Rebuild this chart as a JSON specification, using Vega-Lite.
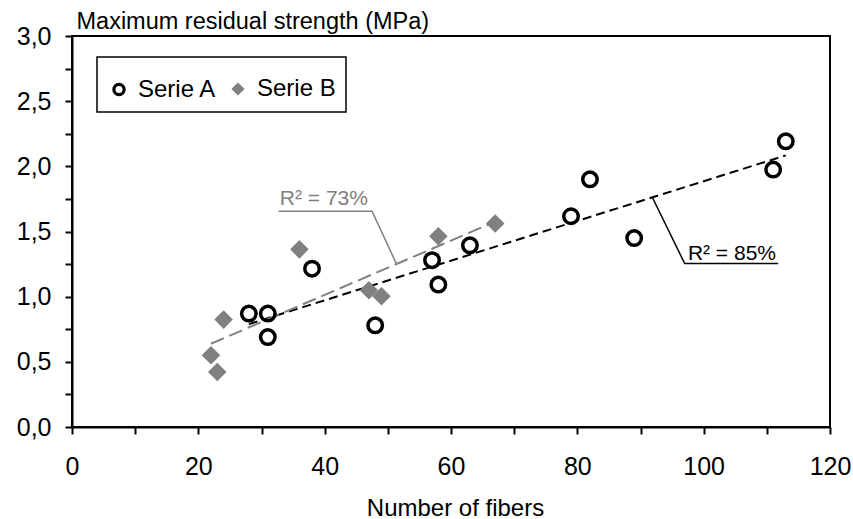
{
  "$schema": "https://vega.github.io/schema/vega-lite/v6.json",
  "autosize": {"type": "none"},
  "padding": {"left": 72, "top": 36, "right": 23, "bottom": 92},
  "width": 758,
  "height": 391,
  "background": "white",
  "datasets": {
    "points": [
      {"fibers": 28, "strength": 0.87, "series": "Serie A"},
      {"fibers": 31, "strength": 0.87, "series": "Serie A"},
      {"fibers": 31, "strength": 0.69, "series": "Serie A"},
      {"fibers": 38, "strength": 1.215, "series": "Serie A"},
      {"fibers": 48, "strength": 0.78, "series": "Serie A"},
      {"fibers": 57, "strength": 1.28, "series": "Serie A"},
      {"fibers": 58, "strength": 1.093, "series": "Serie A"},
      {"fibers": 63, "strength": 1.394, "series": "Serie A"},
      {"fibers": 79, "strength": 1.617, "series": "Serie A"},
      {"fibers": 82, "strength": 1.90, "series": "Serie A"},
      {"fibers": 89, "strength": 1.45, "series": "Serie A"},
      {"fibers": 111, "strength": 1.975, "series": "Serie A"},
      {"fibers": 113, "strength": 2.192, "series": "Serie A"},
      {"fibers": 22, "strength": 0.55, "series": "Serie B"},
      {"fibers": 23, "strength": 0.422, "series": "Serie B"},
      {"fibers": 24, "strength": 0.824, "series": "Serie B"},
      {"fibers": 36, "strength": 1.363, "series": "Serie B"},
      {"fibers": 47, "strength": 1.049, "series": "Serie B"},
      {"fibers": 49, "strength": 1.003, "series": "Serie B"},
      {"fibers": 58, "strength": 1.463, "series": "Serie B"},
      {"fibers": 67, "strength": 1.561, "series": "Serie B"}
    ],
    "leaderB": [
      {"fibers": 32.7, "strength": 1.655, "order": 1},
      {"fibers": 47.5, "strength": 1.655, "order": 2},
      {"fibers": 51.4, "strength": 1.248, "order": 3}
    ],
    "leaderA": [
      {"fibers": 91.85, "strength": 1.765, "order": 1},
      {"fibers": 97.0, "strength": 1.254, "order": 2},
      {"fibers": 111.8, "strength": 1.254, "order": 3}
    ],
    "labelB": [{"fibers": 32.9, "strength": 1.70, "text": "R² = 73%"}],
    "labelA": [{"fibers": 97.5, "strength": 1.284, "text": "R² = 85%"}]
  },
  "encoding": {
    "x": {
      "field": "fibers", "type": "quantitative",
      "scale": {"domain": [0, 120], "nice": false, "zero": false},
      "axis": {
        "title": "Number of fibers",
        "values": [0, 10, 20, 30, 40, 50, 60, 70, 80, 90, 100, 110, 120],
        "labelExpr": "datum.value % 20 == 0 ? datum.label : ''",
        "labelFlush": false, "labelOverlap": false,
        "labelPadding": 20,
        "titleX": 383, "titleY": 88, "titleBaseline": "alphabetic", "titleAlign": "center",
        "titleFontSize": 24
      }
    },
    "y": {
      "field": "strength", "type": "quantitative",
      "scale": {"domain": [0, 3], "nice": false, "zero": false},
      "axis": {
        "title": "Maximum residual strength (MPa)",
        "values": [0, 0.25, 0.5, 0.75, 1, 1.25, 1.5, 1.75, 2, 2.25, 2.5, 2.75, 3],
        "labelExpr": "(datum.value * 2) % 1 == 0 ? replace(format(datum.value, '.1f'), '.', ',') : ''",
        "labelOverlap": false,
        "labelPadding": 14,
        "titleAngle": 0, "titleAlign": "left", "titleBaseline": "alphabetic",
        "titleX": 4, "titleY": -8, "titleFontSize": 23.5
      }
    }
  },
  "layer": [
    {
      "data": {"name": "points"},
      "transform": [{"filter": "datum.series == 'Serie A'"}, {"regression": "strength", "on": "fibers"}],
      "mark": {"type": "line", "color": "black", "strokeWidth": 2, "strokeDash": [9, 5]}
    },
    {
      "data": {"name": "points"},
      "transform": [{"filter": "datum.series == 'Serie B'"}, {"regression": "strength", "on": "fibers"}],
      "mark": {"type": "line", "color": "#808080", "strokeWidth": 2, "strokeDash": [14, 6]}
    },
    {
      "data": {"name": "leaderB"},
      "mark": {"type": "line", "color": "#808080", "strokeWidth": 1.5},
      "encoding": {"order": {"field": "order", "type": "quantitative"}}
    },
    {
      "data": {"name": "leaderA"},
      "mark": {"type": "line", "color": "black", "strokeWidth": 1.5},
      "encoding": {"order": {"field": "order", "type": "quantitative"}}
    },
    {
      "data": {"name": "labelB"},
      "mark": {"type": "text", "align": "left", "baseline": "alphabetic", "fontSize": 21, "color": "#808080", "font": "Liberation Sans"},
      "encoding": {"text": {"field": "text"}}
    },
    {
      "data": {"name": "labelA"},
      "mark": {"type": "text", "align": "left", "baseline": "alphabetic", "fontSize": 21, "color": "black", "font": "Liberation Sans"},
      "encoding": {"text": {"field": "text"}}
    },
    {
      "data": {"name": "points"},
      "mark": {"type": "point", "filled": false, "strokeWidth": 3.5, "opacity": 1},
      "encoding": {
        "shape": {
          "field": "series", "type": "nominal",
          "scale": {"domain": ["Serie A", "Serie B"], "range": ["circle", "M-1.28,0L0,-1.28L1.28,0L0,1.28Z"]},
          "legend": {"title": " ", "encode": {"symbols": {"update": {"size": {"value": 105}}}}}
        },
        "fill": {
          "field": "series", "type": "nominal",
          "scale": {"domain": ["Serie A", "Serie B"], "range": ["transparent", "#808080"]},
          "legend": {"title": " "}
        },
        "stroke": {
          "field": "series", "type": "nominal",
          "scale": {"domain": ["Serie A", "Serie B"], "range": ["black", "transparent"]},
          "legend": {"title": " "}
        },
        "size": {"value": 210}
      }
    }
  ],
  "config": {
    "font": "Liberation Sans",
    "view": {"stroke": "black", "strokeWidth": 2},
    "axis": {
      "grid": false,
      "domainColor": "black", "domainWidth": 2,
      "tickColor": "black", "tickWidth": 2, "tickSize": 7,
      "labelColor": "black", "labelFontSize": 25, "labelFont": "Liberation Sans",
      "titleColor": "black", "titleFontWeight": "normal", "titleFont": "Liberation Sans"
    },
    "legend": {
      "orient": "none", "legendX": 25, "legendY": 21,
      "direction": "horizontal",
      "strokeColor": "black", "strokeWidth": 1.5, "fillColor": "white",
      "padding": 10,
      "titleFontSize": 6, "titlePadding": 4,
      "labelFontSize": 24, "labelFont": "Liberation Sans", "labelColor": "black",
      "symbolSize": 105, "symbolStrokeWidth": 3.2,
      "labelOffset": 7, "columnPadding": 8
    }
  }
}
